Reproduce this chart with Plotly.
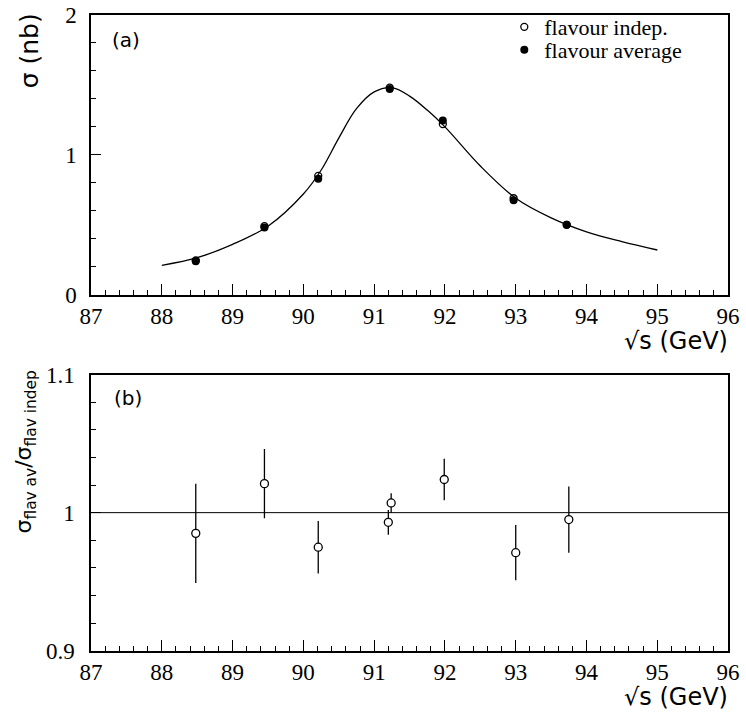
import plotly.graph_objects as go

# ---- data ----
energy = [88.48, 89.45, 90.21, 91.22, 91.97, 92.97, 93.72]
sigma_indep = [0.245, 0.49, 0.85, 1.48, 1.22, 0.69, 0.50]
sigma_avg = [0.24, 0.48, 0.83, 1.47, 1.245, 0.675, 0.50]

fit_x = [88.0, 88.5, 89.0, 89.5, 90.0, 90.25, 90.5, 90.75, 91.0, 91.25, 91.5,
         91.75, 92.0, 92.5, 93.0, 93.5, 94.0, 94.5, 95.0]
fit_y = [0.21, 0.265, 0.36, 0.49, 0.72, 0.89, 1.12, 1.33, 1.45, 1.48, 1.42,
         1.32, 1.20, 0.92, 0.69, 0.55, 0.45, 0.38, 0.32]

ratio_x = [88.48, 89.45, 90.21, 91.20, 91.24, 91.99, 93.00, 93.75]
ratio_y = [0.985, 1.021, 0.975, 0.993, 1.007, 1.024, 0.971, 0.995]
ratio_err = [0.036, 0.025, 0.019, 0.009, 0.007, 0.015, 0.020, 0.024]

x_ticks = [87, 88, 89, 90, 91, 92, 93, 94, 95, 96]
x_ticklabels = ["87", "88", "89", "90", "91", "92", "93", "94", "95", "96"]
top_ticks = [0, 1, 2]
top_ticklabels = ["0", "1", "2"]
bottom_ticks = [0.9, 1.0, 1.1]
bottom_ticklabels = ["0.9", "1", "1.1"]

x_range = [87, 96]
top_range = [0, 2]
bottom_range = [0.9, 1.1]
ref_value = 1.0

SERIF = "Liberation Serif"
SANS = "DejaVu Sans"


def serif(labels):
    return ['<span style="font-family:\'Liberation Serif\', serif">%s</span>' % t for t in labels]


fig = go.Figure()

fig.add_trace(go.Scatter(x=fit_x, y=fit_y, mode="lines", line=dict(color="black", width=1.3, shape="spline"),
                         showlegend=False, xaxis="x", yaxis="y"))
fig.add_trace(go.Scatter(x=energy, y=sigma_indep, mode="markers", name="flavour indep.",
                         marker=dict(symbol="circle-open", size=7, color="black", line=dict(width=1.3)),
                         xaxis="x", yaxis="y", legend="legend"))
fig.add_trace(go.Scatter(x=energy, y=sigma_avg, mode="markers", name="flavour average",
                         marker=dict(symbol="circle", size=8, color="black"),
                         xaxis="x", yaxis="y", legend="legend2"))

fig.add_trace(go.Scatter(x=ratio_x, y=ratio_y, mode="markers",
                         error_y=dict(type="data", array=ratio_err, width=0, thickness=1.3, color="black"),
                         marker=dict(symbol="circle", size=8, color="white", line=dict(color="black", width=1.3)),
                         showlegend=False, xaxis="x2", yaxis="y2"))

fig.add_shape(type="line", xref="x2 domain", yref="y2", x0=0, x1=1, y0=ref_value, y1=ref_value,
              line=dict(color="black", width=1))

tick_font = dict(family=SERIF, size=23, color="black")
axis_common = dict(showline=True, linecolor="black", linewidth=1.5, mirror=True, ticks="inside",
                   showgrid=False, zeroline=False, tickcolor="black", tickwidth=1.2, automargin=False,
                   tickfont=tick_font)
minor_x = dict(dtick=0.2, ticklen=5, ticks="inside", tickcolor="black", tickwidth=1)

legend_common = dict(x=0.676, xanchor="left", yanchor="middle", bgcolor="rgba(0,0,0,0)",
                     font=dict(family=SERIF, size=22, color="black"), itemwidth=30, borderwidth=0)

fig.update_layout(
    width=746, height=712,
    font=dict(family=SERIF, color="black", size=23),
    margin=dict(l=0, r=0, t=0, b=0, autoexpand=False),
    paper_bgcolor="white", plot_bgcolor="white",
    xaxis=dict(domain=[0.122, 0.976], range=x_range, tickvals=x_ticks, ticktext=serif(x_ticklabels),
               ticklen=11, minor=minor_x, anchor="y", **axis_common),
    yaxis=dict(domain=[0.586, 0.979], range=top_range, tickvals=top_ticks, ticktext=serif(top_ticklabels),
               ticklen=10, minor=dict(dtick=0.2, ticklen=5, ticks="inside", tickcolor="black", tickwidth=1),
               anchor="x", ticklabelstandoff=8, **axis_common),
    xaxis2=dict(domain=[0.122, 0.976], range=x_range, tickvals=x_ticks, ticktext=serif(x_ticklabels),
                ticklen=11, minor=minor_x, anchor="y2", **axis_common),
    yaxis2=dict(domain=[0.086, 0.474], range=bottom_range, tickvals=bottom_ticks,
                ticktext=serif(bottom_ticklabels), ticklen=10,
                minor=dict(dtick=0.02, ticklen=5, ticks="inside", tickcolor="black", tickwidth=1),
                anchor="x2", ticklabelstandoff=10, **axis_common),
    legend=dict(y=0.962, **legend_common),
    legend2=dict(y=0.930, **legend_common),
    showlegend=True,
)

annots = [
    dict(text="(a)", x=0.147, y=0.963, xref="paper", yref="paper", xanchor="left", yanchor="top",
         showarrow=False, font=dict(family=SANS, size=20, color="black")),
    dict(text="(b)", x=0.15, y=0.46, xref="paper", yref="paper", xanchor="left", yanchor="top",
         showarrow=False, font=dict(family=SANS, size=20, color="black")),
    dict(text="σ (nb)", x=0.039, y=0.928, xref="paper", yref="paper", xanchor="center", yanchor="middle",
         textangle=-90, showarrow=False, font=dict(family=SANS, size=25, color="black")),
    dict(text="σ<sub>flav av</sub>/σ<sub>flav indep</sub>", x=0.034, y=0.365, xref="paper", yref="paper",
         xanchor="center", yanchor="middle", textangle=-90, showarrow=False,
         font=dict(family=SANS, size=22, color="black")),
    dict(text="√s (GeV)", x=0.978, y=0.521, xref="paper", yref="paper", xanchor="right", yanchor="middle",
         showarrow=False, font=dict(family=SANS, size=24, color="black")),
    dict(text="√s (GeV)", x=0.978, y=0.021, xref="paper", yref="paper", xanchor="right", yanchor="middle",
         showarrow=False, font=dict(family=SANS, size=24, color="black")),
]
fig.update_layout(annotations=annots)

fig.write_html("out.html")
